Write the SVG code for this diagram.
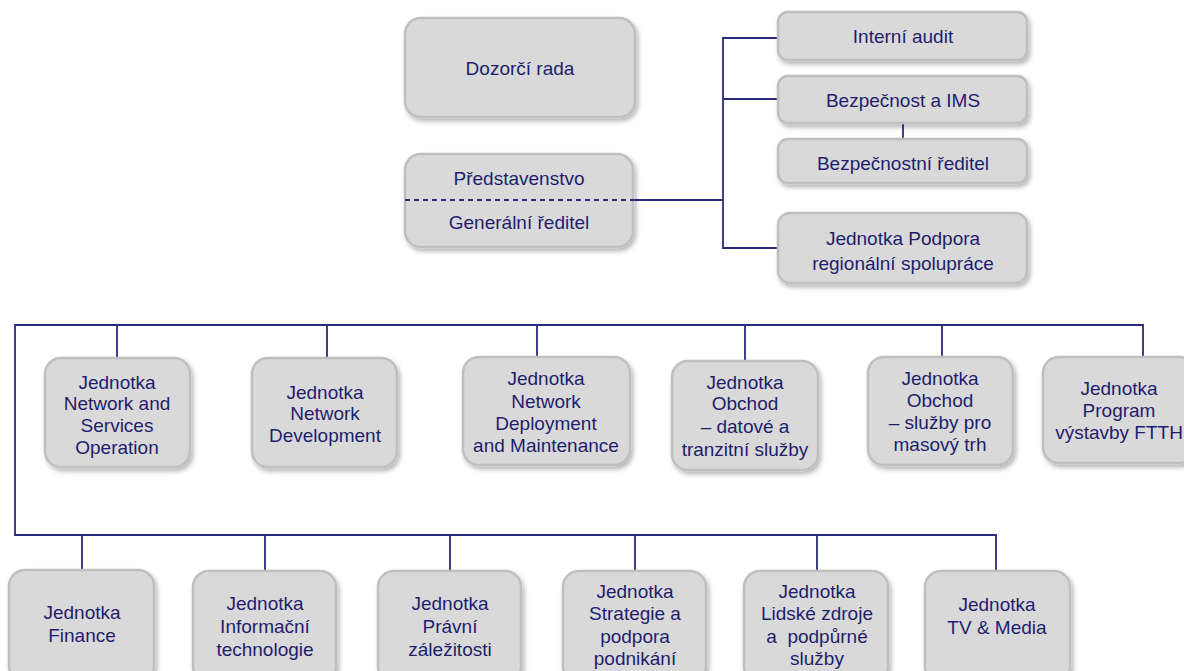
<svg xmlns="http://www.w3.org/2000/svg" width="1184" height="671" viewBox="0 0 1184 671">
<defs>
<filter id="sh" x="-10%" y="-10%" width="130%" height="130%">
<feGaussianBlur in="SourceAlpha" stdDeviation="2.5"/>
<feOffset dx="2" dy="3" result="b"/>
<feComponentTransfer><feFuncA type="linear" slope="0.3"/></feComponentTransfer>
<feMerge><feMergeNode/><feMergeNode in="SourceGraphic"/></feMerge>
</filter>
</defs>
<style>
.box{fill:#d9d9d9;stroke:#bfbfbf;stroke-width:2.5;filter:url(#sh)}
.t{font-family:"Liberation Sans",Arial,sans-serif;font-size:19px;fill:#1e1e6e;text-anchor:middle}
.ln{stroke:#2a2a7c;stroke-width:1.8;fill:none}
</style>
<rect width="1184" height="671" fill="#ffffff"/>
<g id="connectors">
<line class="ln" x1="634" y1="200" x2="723" y2="200"/>
<line class="ln" x1="494" y1="156" x2="494" y2="160"/>
<polyline class="ln" points="778,38 723,38 723,248 778,248"/>
<line class="ln" x1="723" y1="99" x2="778" y2="99"/>
<line class="ln" x1="903" y1="123" x2="903" y2="139"/>
<polyline class="ln" points="1143,358 1143,325 15,325 15,535 996,535 996,571"/>
<line class="ln" x1="117" y1="325" x2="117" y2="358"/>
<line class="ln" x1="327" y1="325" x2="327" y2="358"/>
<line class="ln" x1="537" y1="325" x2="537" y2="357"/>
<line class="ln" x1="745" y1="325" x2="745" y2="361"/>
<line class="ln" x1="942" y1="325" x2="942" y2="357"/>
<line class="ln" x1="82" y1="535" x2="82" y2="570"/>
<line class="ln" x1="265" y1="535" x2="265" y2="571"/>
<line class="ln" x1="450" y1="535" x2="450" y2="571"/>
<line class="ln" x1="635" y1="535" x2="635" y2="571"/>
<line class="ln" x1="817" y1="535" x2="817" y2="571"/>
</g>
<g id="dozorci-rada"><rect class="box" x="405" y="18" width="230" height="99" rx="16"/><text class="t" x="520" y="75">Dozorčí rada</text></g>
<g id="predstavenstvo"><rect class="box" x="405" y="154" width="228" height="93" rx="16"/>
<line class="ln" x1="405" y1="200" x2="634" y2="200" stroke-dasharray="5 4"/>
<text class="t" x="519" y="185">Představenstvo</text><text class="t" x="519" y="229">Generální ředitel</text></g>
<g id="interni-audit"><rect class="box" x="778" y="12" width="249" height="48" rx="10"/><text class="t" x="903" y="43">Interní audit</text></g>
<g id="bezpecnost"><rect class="box" x="778" y="76" width="249" height="47" rx="10"/><text class="t" x="903" y="107">Bezpečnost a IMS</text></g>
<g id="bezp-reditel"><rect class="box" x="778" y="139" width="249" height="44" rx="10"/><text class="t" x="903" y="170">Bezpečnostní ředitel</text></g>
<g id="podpora"><rect class="box" x="778" y="213" width="249" height="70" rx="12"/><text class="t" x="903" y="245">Jednotka Podpora</text><text class="t" x="903" y="270">regionální spolupráce</text></g>

<g id="nso"><rect class="box" x="45" y="358" width="145" height="109" rx="16"/><text class="t" x="117" y="389">Jednotka</text><text class="t" x="117" y="410">Network and</text><text class="t" x="117" y="432">Services</text><text class="t" x="117" y="454">Operation</text></g>
<g id="nd"><rect class="box" x="252" y="358" width="145" height="109" rx="16"/><text class="t" x="325" y="399">Jednotka</text><text class="t" x="325" y="420">Network</text><text class="t" x="325" y="442">Development</text></g>
<g id="ndm"><rect class="box" x="463" y="357" width="167" height="108" rx="16"/><text class="t" x="546" y="385">Jednotka</text><text class="t" x="546" y="408">Network</text><text class="t" x="546" y="430">Deployment</text><text class="t" x="546" y="452">and Maintenance</text></g>
<g id="obchod-data"><rect class="box" x="672" y="361" width="146" height="109" rx="16"/><text class="t" x="745" y="389">Jednotka</text><text class="t" x="745" y="410">Obchod</text><text class="t" x="745" y="433">– datové a</text><text class="t" x="745" y="456">tranzitní služby</text></g>
<g id="obchod-mass"><rect class="box" x="868" y="357" width="145" height="108" rx="16"/><text class="t" x="940" y="385">Jednotka</text><text class="t" x="940" y="407">Obchod</text><text class="t" x="940" y="429">– služby pro</text><text class="t" x="940" y="451">masový trh</text></g>
<g id="ftth"><rect class="box" x="1043" y="357" width="152" height="106" rx="16"/><text class="t" x="1119" y="395">Jednotka</text><text class="t" x="1119" y="417">Program</text><text class="t" x="1119" y="439">výstavby FTTH</text></g>

<g id="finance"><rect class="box" x="9" y="570" width="145" height="112" rx="16"/><text class="t" x="82" y="619">Jednotka</text><text class="t" x="82" y="642">Finance</text></g>
<g id="it"><rect class="box" x="193" y="571" width="143" height="112" rx="16"/><text class="t" x="265" y="610">Jednotka</text><text class="t" x="265" y="633">Informační</text><text class="t" x="265" y="656">technologie</text></g>
<g id="pravni"><rect class="box" x="378" y="571" width="143" height="112" rx="16"/><text class="t" x="450" y="610">Jednotka</text><text class="t" x="450" y="633">Právní</text><text class="t" x="450" y="656">záležitosti</text></g>
<g id="strategie"><rect class="box" x="563" y="571" width="143" height="112" rx="16"/><text class="t" x="635" y="598">Jednotka</text><text class="t" x="635" y="620">Strategie a</text><text class="t" x="635" y="643">podpora</text><text class="t" x="635" y="665">podnikání</text></g>
<g id="lidske"><rect class="box" x="744" y="571" width="144" height="112" rx="16"/><text class="t" x="817" y="598">Jednotka</text><text class="t" x="817" y="620">Lidské zdroje</text><text class="t" x="817" y="643" xml:space="preserve" style="white-space:pre">a  podpůrné</text><text class="t" x="817" y="665">služby</text></g>
<g id="tv"><rect class="box" x="925" y="571" width="145" height="112" rx="16"/><text class="t" x="997" y="611">Jednotka</text><text class="t" x="997" y="634">TV &amp; Media</text></g>
</svg>
